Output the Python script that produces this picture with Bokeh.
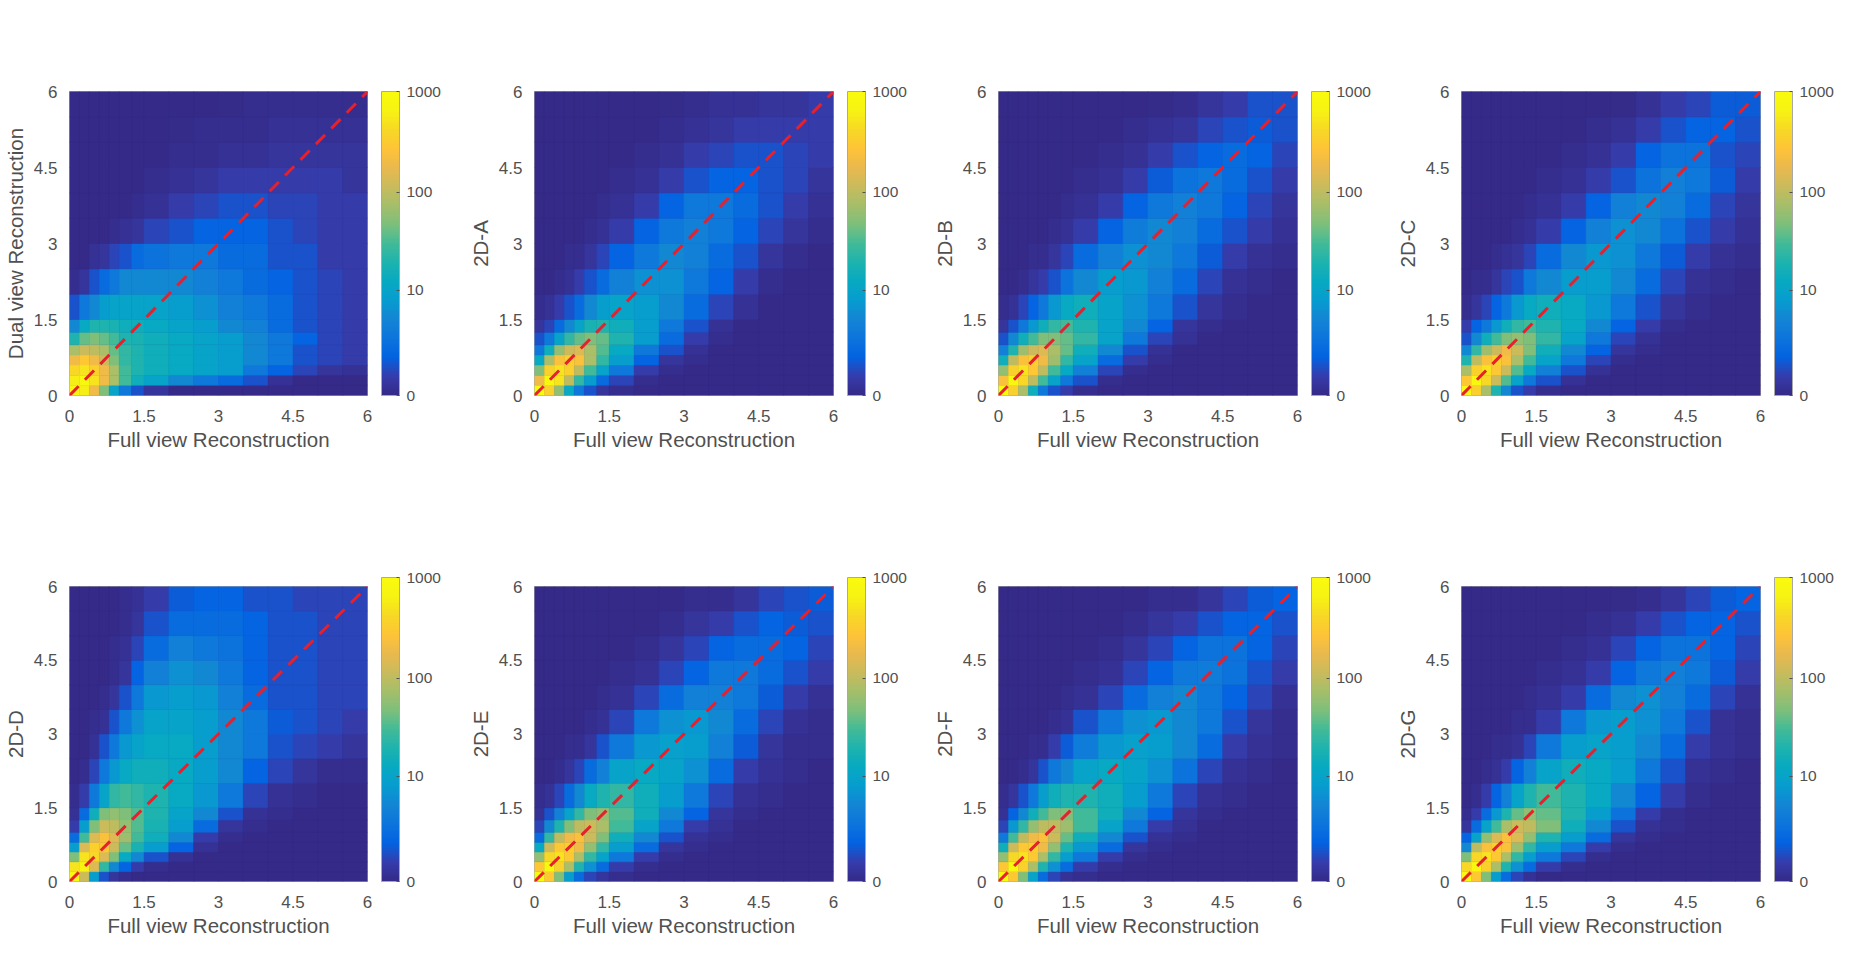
import numpy as np
from bokeh.embed import file_html
from bokeh.resources import INLINE
from bokeh.layouts import gridplot
from bokeh.models import ColorBar, ColumnDataSource, FixedTicker, Label, LinearColorMapper, Range1d
from bokeh.plotting import figure
from bokeh.core.properties import value

# bin edges (both axes), in the units of the plots
EDGES = [0, .2, .4, .6, .8, 1, 1.25, 1.5, 2, 2.5, 3, 3.5, 4, 4.5, 5, 5.5, 6]
AXIS_TICKS = [0, 1.5, 3, 4.5, 6]
AXIS_LABELS = ["0", "1.5", "3", "4.5", "6"]
BAR_LABELS = ["0", "10", "100", "1000"]
BAR_COUNTS = [0, 10, 100, 1000]
DIAGONAL = [0, 6]

DUAL = [
[800,600,200,50,10,3,1,.3,0,0,0,0,0,0,0,0],
[600,800,500,200,80,30,15,10,5,3,2,1,.2,0,0,0],
[400,500,350,200,80,30,20,15,12,10,8,3,1.5,.7,.3,.2],
[200,300,200,120,50,25,20,15,12,10,8,5,3,1,.7,.5],
[80,120,100,80,40,25,20,15,12,10,8,5,3,1,.7,.5],
[20,40,50,40,30,20,18,15,12,10,8,5,3,1.5,.7,.5],
[5,12,20,20,18,15,15,12,10,8,5,4,2,1,.7,.5],
[1,3,5,8,10,10,10,10,8,6,4,3,2,1,.7,.5],
[.1,.3,1,2,3,5,5,5,5,4,3,2,1.5,1,.7,.5],
[0,0,.2,.3,.7,1,2,2.5,3,3,2,2,1,1,.5,.5],
[0,0,0,0,.1,.2,.3,.7,1,1.5,1.5,1.5,1,.7,.5,.5],
[0,0,0,0,0,0,.1,.2,.5,.7,1,1,.7,.7,.5,.5],
[0,0,0,0,0,0,0,.1,.2,.3,.5,.5,.5,.5,.5,.3],
[0,0,0,0,0,0,0,0,.1,.1,.2,.2,.3,.3,.3,.3],
[0,0,0,0,0,0,0,0,.05,.1,.1,.1,.2,.2,.2,.2],
[0,0,0,0,0,0,0,0,0,0,.05,.1,.1,.1,.1,.1],
]
A = [
[1000,350,60,12,3,1,.3,.1,0,0,0,0,0,0,0,0],
[200,800,500,100,25,8,2,.7,.1,0,0,0,0,0,0,0],
[50,350,500,350,100,30,10,3,.5,.1,0,0,0,0,0,0],
[12,80,250,350,250,80,25,8,1.5,.3,.1,0,0,0,0,0],
[3,15,60,120,150,80,35,12,3,1,.2,0,0,0,0,0],
[1,3,10,25,40,50,40,20,8,2,.5,.1,0,0,0,0],
[.3,.7,2,5,10,18,20,15,8,3,1,.2,0,0,0,0],
[.1,.2,.5,1,2,5,8,10,8,5,2,.7,.2,0,0,0],
[0,0,.1,.2,.5,1,2,4,6,6,3,1.5,.5,.1,0,0],
[0,0,0,.1,.1,.3,.7,1.5,3,5,4,2,1,.3,.1,0],
[0,0,0,0,0,.1,.2,.5,1.5,3,4,3,1.5,.7,.3,.1],
[0,0,0,0,0,0,.1,.2,.5,1.5,3,3,2,1,.5,.2],
[0,0,0,0,0,0,0,.1,.2,.5,1,1.5,1.5,1,.7,.3],
[0,0,0,0,0,0,0,0,.1,.2,.5,.7,1,1,.7,.5],
[0,0,0,0,0,0,0,0,0,.1,.2,.3,.5,.5,.5,.5],
[0,0,0,0,0,0,0,0,0,.05,.1,.2,.2,.3,.3,.5],
]
B = [
[1000,350,80,15,3,1,.5,.1,0,0,0,0,0,0,0,0],
[250,800,400,100,30,10,3,1,.1,0,0,0,0,0,0,0],
[60,350,500,300,100,30,12,4,.7,.1,0,0,0,0,0,0],
[15,100,250,350,200,70,25,10,2,.5,.1,0,0,0,0,0],
[4,20,70,120,150,80,40,15,5,1,.2,0,0,0,0,0],
[1,5,15,30,50,50,40,25,10,3,.7,.2,0,0,0,0],
[.3,1,3,7,15,25,30,20,10,5,1.5,.3,.1,0,0,0],
[.1,.2,.7,1.5,3,7,12,15,10,6,3,1,.3,.1,0,0],
[0,0,.1,.3,.5,1,2.5,5,8,7,4,2,.7,.2,.1,0],
[0,0,0,.1,.1,.3,.7,2,4,6,5,3,1.2,.5,.2,.1],
[0,0,0,0,0,.1,.2,.5,1.5,3.5,5,4,2,1,.5,.2],
[0,0,0,0,0,0,.1,.2,.5,1.5,3,4,3,1.5,.7,.3],
[0,0,0,0,0,0,0,.1,.2,.5,1.2,2.5,3,2,1,.5],
[0,0,0,0,0,0,0,0,.1,.2,.5,1,1.5,2,1.5,.7],
[0,0,0,0,0,0,0,0,0,.1,.2,.3,.7,1,1.2,1],
[0,0,0,0,0,0,0,0,0,0,.05,.1,.3,.5,1,1],
]
C = [
[1000,350,80,20,5,1,.5,.1,0,0,0,0,0,0,0,0],
[300,800,400,120,35,10,3,1,.2,0,0,0,0,0,0,0],
[80,350,500,300,120,35,12,4,1,.2,0,0,0,0,0,0],
[20,100,250,350,250,80,30,10,3,.7,.1,0,0,0,0,0],
[5,25,70,120,200,120,50,15,5,1.5,.3,.1,0,0,0,0],
[1,5,15,30,50,60,50,25,10,3,.7,.2,0,0,0,0],
[.5,1.5,3,7,15,25,30,20,12,5,1.5,.5,.1,0,0,0],
[.1,.3,.7,1.5,3,7,12,15,12,7,3,1,.3,.1,0,0],
[0,.1,.1,.3,.7,1,3,5,8,8,5,2,.7,.2,.1,0],
[0,0,0,.1,.2,.3,.7,2,5,7,6,3,1.2,.5,.2,.1],
[0,0,0,0,0,.1,.2,.5,1.5,4,6,5,2.5,1,.5,.2],
[0,0,0,0,0,0,.1,.2,.5,1.5,4,5,4,2,.7,.3],
[0,0,0,0,0,0,0,.1,.2,.5,1,2.5,4,3,1.2,.5],
[0,0,0,0,0,0,0,0,.1,.2,.5,1.5,2.5,2.5,1,.7],
[0,0,0,0,0,0,0,0,0,.1,.2,.5,1,1.5,1.5,1],
[0,0,0,0,0,0,0,0,0,0,.05,.2,.5,.7,1.2,1.2],
]
D = [
[1000,120,8,1,.3,.1,0,0,0,0,0,0,0,0,0,0],
[500,700,150,25,5,1.5,.5,.1,0,0,0,0,0,0,0,0],
[50,500,400,150,50,12,5,1,.2,0,0,0,0,0,0,0],
[8,150,350,300,120,40,18,8,1.5,.2,0,0,0,0,0,0],
[2,30,150,250,150,70,30,15,5,.5,.1,0,0,0,0,0],
[.5,8,50,120,100,60,35,18,8,2,.3,.1,0,0,0,0],
[.2,2,15,50,60,50,35,20,10,5,1,.2,.1,0,0,0],
[.1,.5,3,10,25,30,25,20,12,7,3,.7,.2,.1,0,0],
[0,.1,.7,3,7,12,15,15,12,8,5,1.5,.7,.3,.1,.1],
[0,0,.2,1,3,7,10,12,12,8,5,3,1,.7,.5,.3],
[0,0,.1,.2,1,3,6,10,10,8,5,3,1.2,1,.7,.5],
[0,0,0,.1,.3,1,3,7,8,7,4,2,1,1,.7,.7],
[0,0,0,0,.1,.3,1.5,4,6,5,3,1.5,1,1,.7,.7],
[0,0,0,0,.1,.2,.7,2,4,3,2.5,1.5,1,1,.7,.7],
[0,0,0,0,0,.1,.3,1,2,2,2,1.5,1,1,.7,.7],
[0,0,0,0,0,.1,.2,.5,1.2,1.5,1.5,1,1,.7,.7,.7],
]
E = [
[1000,300,50,8,2,.7,.3,.1,0,0,0,0,0,0,0,0],
[300,800,350,80,20,6,2,.5,.1,0,0,0,0,0,0,0],
[60,400,500,300,80,25,10,3,.5,.1,0,0,0,0,0,0],
[12,120,300,350,200,60,25,8,2,.3,.1,0,0,0,0,0],
[2,25,100,200,250,120,50,15,5,1,.2,.1,0,0,0,0],
[.7,5,20,50,100,120,80,30,10,3,.5,.2,0,0,0,0],
[.2,1,4,10,25,50,60,35,15,5,1.5,.3,.1,0,0,0],
[.1,.2,.7,2,5,12,20,25,15,8,3,.7,.2,.1,0,0],
[0,0,.1,.3,.7,2,4,10,12,10,6,2,.5,.2,.1,0],
[0,0,0,.1,.1,.3,1,3,7,9,8,4,1.2,.3,.1,.1],
[0,0,0,0,0,.1,.2,.7,3,6,7,5,2,.7,.2,.1],
[0,0,0,0,0,0,.1,.2,.7,2,4,4,3,1.2,.5,.2],
[0,0,0,0,0,0,0,.1,.2,.7,1.5,3,3,2,1,.5],
[0,0,0,0,0,0,0,0,.1,.3,.7,1.5,2,2,1.5,.7],
[0,0,0,0,0,0,0,0,0,.1,.3,.5,1,1.5,1.2,1],
[0,0,0,0,0,0,0,0,0,0,.1,.1,.3,.7,1,1.2],
]
F = [
[1000,300,50,10,2,.7,.2,.1,0,0,0,0,0,0,0,0],
[300,800,350,80,20,6,2,.5,.1,0,0,0,0,0,0,0],
[60,400,500,300,80,25,8,3,.5,.1,0,0,0,0,0,0],
[15,120,300,350,200,60,20,7,2,.3,.1,0,0,0,0,0],
[3,30,100,200,250,120,40,15,5,1,.2,.1,0,0,0,0],
[.7,7,25,60,100,100,70,30,10,3,.5,.2,0,0,0,0],
[.2,1.5,5,15,30,50,50,30,15,5,1.5,.3,.1,0,0,0],
[.1,.3,1,3,8,15,20,20,15,8,3,.7,.2,.1,0,0],
[0,0,.1,.3,1,3,5,10,12,10,6,2.5,.7,.2,.1,0],
[0,0,0,.1,.1,.5,1.2,3.5,7,9,8,5,2,.5,.2,.1],
[0,0,0,0,0,.1,.2,1,3,6,7,5,3,1,.3,.1],
[0,0,0,0,0,0,.1,.2,.7,2,4,5,3,1.5,.7,.2],
[0,0,0,0,0,0,0,.1,.2,.7,1.5,3,3.5,2.5,1,.5],
[0,0,0,0,0,0,0,0,.1,.3,.7,1.5,2.5,2.5,1.5,.7],
[0,0,0,0,0,0,0,0,0,.1,.3,.5,1,1.5,1.5,1],
[0,0,0,0,0,0,0,0,0,0,.1,.1,.3,.7,1.2,1.5],
]
G = [
[1000,300,50,8,2,.7,.2,0,0,0,0,0,0,0,0,0],
[400,800,350,80,20,6,2,.5,.1,0,0,0,0,0,0,0],
[50,400,500,300,80,25,8,3,.7,.1,0,0,0,0,0,0],
[5,100,250,350,250,70,25,8,3,.5,.1,0,0,0,0,0],
[1.5,10,60,150,250,150,60,20,8,2,.3,.1,0,0,0,0],
[.3,2,10,30,80,120,100,50,15,5,1,.2,.1,0,0,0],
[.1,.5,2,7,20,40,60,40,20,8,2.5,.5,.1,0,0,0],
[0,.1,.5,1.5,4,10,20,30,20,12,5,1.5,.5,.1,0,0],
[0,0,.1,.2,.5,1.5,4,10,15,12,8,3,1,.2,.1,0],
[0,0,0,.1,.1,.2,.7,3,8,10,8,5,2,.5,.2,.1],
[0,0,0,0,0,.1,.1,.5,3,7,8,6,3,1,.2,.1],
[0,0,0,0,0,0,.1,.2,.5,2,5,6,4,2,.7,.2],
[0,0,0,0,0,0,0,.1,.2,.5,1.5,3,4,3,1.2,.5],
[0,0,0,0,0,0,0,0,.1,.2,.7,1.5,2.5,2.5,1.5,.7],
[0,0,0,0,0,0,0,0,0,.1,.2,.5,1,1.5,1.5,1],
[0,0,0,0,0,0,0,0,0,0,.05,.1,.3,.7,1.2,1.5],
]

GRIDS = [DUAL, A, B, C, D, E, F, G]
HEADS = ["Dual  View", "2D-A", "2D-B", "2D-C", "2D-D", "2D-E", "2D-F", "2D-G"]
SUBS = ["Reconstruction"] + ["Predicted  Images"] * 7
YLABELS = ["Dual view Reconstruction", "2D-A", "2D-B", "2D-C", "2D-D", "2D-E", "2D-F", "2D-G"]
XLABEL = "Full view Reconstruction"

# page layout
FONT = "Liberation Sans"
GRAY = "#505050"
FRAME = 304
WIDTHS = [465, 464, 463, 448]
LEFTS = [63, 64, 64, 64]
ROW = [dict(height=476, top=91), dict(height=463, top=110)]
# title centres relative to the frame: (dx of both, px above frame top of head, of sub)
TITLE = [(2, 75, 24), (2, 73, 24), (2, 74, 24), (1, 70, 20),
         (2, 92, 41), (3, 92, 41), (5, 92, 41), (7, 92, 41)]

ANCHORS = [(.2081,.1663,.5292),(.2081,.2386,.6771),(.0117,.3875,.8820),(.0498,.4586,.8641),
           (.0793,.5200,.8312),(.0265,.6137,.8135),(.0267,.6642,.7607),(.1133,.7015,.6859),
           (.2586,.7317,.5954),(.4871,.7491,.4840),(.6473,.7456,.4188),(.7858,.7356,.3633),
           (.9139,.7258,.3063),(.9990,.7653,.2164),(.9697,.8481,.1475),(.9661,.9514,.0755),(.9763,.9831,.0538)]
_pos = np.linspace(0, 1, len(ANCHORS))
_t = np.linspace(0, 1, 256)
PALETTE = ["#%02x%02x%02x" % tuple(int(round(255 * np.interp(t, _pos, [a[k] for a in ANCHORS]))) for k in range(3)) for t in _t]


def scale(c):
    return np.log10(1 + np.asarray(c, dtype=float))


mapper = LinearColorMapper(palette=PALETTE, low=0, high=float(scale(1000)))
BAR_TICKS = [round(float(scale(c)), 3) for c in BAR_COUNTS]


def panel(i):
    col, r = i % 4, i // 4
    h, top = ROW[r]["height"], ROW[r]["top"]
    p = figure(width=WIDTHS[col], height=h, x_range=Range1d(0, 6), y_range=Range1d(0, 6),
               output_backend="svg", toolbar_location=None, tools="",
               min_border_left=LEFTS[col], min_border_right=WIDTHS[col] - LEFTS[col] - FRAME,
               min_border_top=top, min_border_bottom=h - top - FRAME,
               background_fill_color=PALETTE[0], border_fill_color="white",
               outline_line_color="#a8a8a8", outline_line_width=1)
    p.grid.visible = False
    e = np.array(EDGES)
    g = np.array(GRIDS[i], dtype=float)
    xi, yi = np.meshgrid(np.arange(16), np.arange(16))
    src = ColumnDataSource(dict(left=e[xi.ravel()], right=e[xi.ravel() + 1], bottom=e[yi.ravel()],
                                top=e[yi.ravel() + 1], level=scale(g.ravel())))
    tr = {"field": "level", "transform": mapper}
    p.quad(left="left", right="right", bottom="bottom", top="top", source=src, fill_color=tr, line_color=tr, line_width=0.5)
    p.line(DIAGONAL, DIAGONAL, line_color="#e6202c", line_width=3, line_dash="13 9")
    for ax in (p.xaxis[0], p.yaxis[0]):
        ax.ticker = FixedTicker(ticks=AXIS_TICKS)
        ax.major_label_overrides = dict(zip(AXIS_TICKS, AXIS_LABELS))
        ax.major_tick_line_color = None
        ax.minor_tick_line_color = None
        ax.axis_line_color = None
        ax.major_label_text_font = FONT
        ax.major_label_text_font_size = "17px"
        ax.major_label_text_color = GRAY
        ax.axis_label_text_font = FONT
        ax.axis_label_text_font_size = "20.5px"
        ax.axis_label_text_font_style = "normal"
        ax.axis_label_text_color = GRAY
    p.xaxis[0].axis_label = XLABEL
    p.yaxis[0].axis_label = YLABELS[i]
    p.xaxis[0].major_label_standoff = 8
    p.xaxis[0].axis_label_standoff = 3
    p.yaxis[0].major_label_standoff = 6
    p.yaxis[0].axis_label_standoff = 4
    bar = ColorBar(color_mapper=mapper, ticker=FixedTicker(ticks=BAR_TICKS), minor_tick_line_color=None,
                   major_label_overrides=dict(zip(BAR_TICKS, BAR_LABELS)), width=18, height=FRAME,
                   padding=0, margin=0, location=(14, 0), bar_line_color="#a8a8a8",
                   major_tick_line_color=GRAY, major_tick_in=3, major_tick_out=0, label_standoff=7,
                   major_label_text_font=FONT, major_label_text_font_size="15.5px",
                   major_label_text_color=GRAY, border_line_color=None, background_fill_color=None)
    p.add_layout(bar, "right")
    dx, sub_up, head_up = TITLE[i]
    u = 6 / FRAME
    p.add_layout(Label(x=3 + dx * u, y=6 + (top - head_up - 0) * 0 + (top - head_up) * u - (top - head_up) * u + (ROW[r]["top"] + 8 - (0 if r == 0 else 0) - head_up) * 0 + HEAD_UP(i) * u,
                       text=HEADS[i], text_align="center", text_baseline="middle",
                       text_font=FONT, text_font_size="32px", text_font_style="bold", text_color="black"))
    p.add_layout(Label(x=3 + dx * u, y=6 + sub_up_px(i) * u, text=SUBS[i], text_align="center", text_baseline="middle",
                       text_font=FONT, text_font_size="33px", text_color="black"))
    return p


def HEAD_UP(i):
    return FRAME_TOPS[i // 4] - HEAD_Y[i]


def sub_up_px(i):
    return FRAME_TOPS[i // 4] - SUB_Y[i]


FRAME_TOPS = [99, 594]
HEAD_Y = [24, 27, 25, 30, 502, 502, 502, 502]
SUB_Y = [75, 75, 75, 80, 553, 553, 553, 553]

plots = [panel(i) for i in range(8)]
layout = gridplot([plots[:4], plots[4:]], toolbar_location=None, merge_tools=False)
open("out.html", "w").write(file_html(layout, INLINE))
